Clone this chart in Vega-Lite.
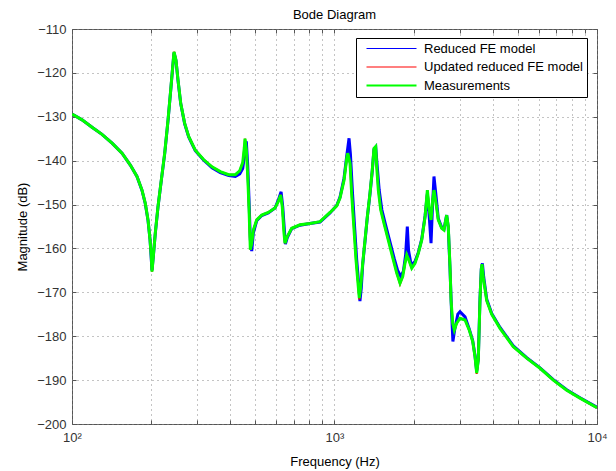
{
  "$schema": "https://vega.github.io/schema/vega-lite/v6.json",
  "width": 525,
  "height": 395,
  "autosize": "none",
  "padding": {"left": 72, "top": 29, "right": 19, "bottom": 47},
  "background": "white",
  "config": {
    "font": "Liberation Sans",
    "view": {"stroke": "#555", "strokeWidth": 1},
    "axis": {"labelFont": "Liberation Sans", "titleFont": "Liberation Sans"}
  },
  "title": {"text": "Bode Diagram", "fontSize": 13, "fontWeight": "normal", "color": "#000", "frame": "group", "offset": 4, "dy": 16, "baseline": "bottom"},
  "datasets": {
    "pts": [
      {"s":"Measurements","f":100,"m":-129.4},{"s":"Measurements","f":109.2,"m":-130.7},{"s":"Measurements","f":119.2,"m":-132.4},{"s":"Measurements","f":130.1,"m":-134.0},{"s":"Measurements","f":142.1,"m":-136.0},{"s":"Measurements","f":155.1,"m":-138.3},{"s":"Measurements","f":166.8,"m":-141.0},{"s":"Measurements","f":176.8,"m":-143.6},{"s":"Measurements","f":184.8,"m":-146.7},{"s":"Measurements","f":190.2,"m":-149.7},{"s":"Measurements","f":194.8,"m":-153.5},{"s":"Measurements","f":198.3,"m":-158.1},{"s":"Measurements","f":200.5,"m":-161.9},{"s":"Measurements","f":201.7,"m":-165.3},{"s":"Measurements","f":204,"m":-161.9},{"s":"Measurements","f":207.6,"m":-156.5},{"s":"Measurements","f":212.6,"m":-150.5},{"s":"Measurements","f":218.9,"m":-144.4},{"s":"Measurements","f":225.5,"m":-138.3},{"s":"Measurements","f":232.2,"m":-130.7},{"s":"Measurements","f":237.7,"m":-123.9},{"s":"Measurements","f":241.9,"m":-118.6},{"s":"Measurements","f":244.7,"m":-115.2},{"s":"Measurements","f":249,"m":-117.1},{"s":"Measurements","f":253.4,"m":-121.6},{"s":"Measurements","f":259.5,"m":-126.9},{"s":"Measurements","f":268.7,"m":-131.5},{"s":"Measurements","f":278.3,"m":-134.5},{"s":"Measurements","f":294.9,"m":-137.6},{"s":"Measurements","f":317.6,"m":-139.8},{"s":"Measurements","f":341.5,"m":-141.4},{"s":"Measurements","f":367.3,"m":-142.5},{"s":"Measurements","f":395.4,"m":-143.2},{"s":"Measurements","f":419,"m":-143.2},{"s":"Measurements","f":435.5,"m":-142.3},{"s":"Measurements","f":447.1,"m":-140.4},{"s":"Measurements","f":453.4,"m":-137.0},{"s":"Measurements","f":456.1,"m":-135.0},{"s":"Measurements","f":461.4,"m":-137.5},{"s":"Measurements","f":467.1,"m":-143.5},{"s":"Measurements","f":472.5,"m":-151.0},{"s":"Measurements","f":477.9,"m":-160.3},{"s":"Measurements","f":483.8,"m":-158.8},{"s":"Measurements","f":490.6,"m":-155.8},{"s":"Measurements","f":505.4,"m":-153.5},{"s":"Measurements","f":528.1,"m":-152.4},{"s":"Measurements","f":559.5,"m":-151.8},{"s":"Measurements","f":593.4,"m":-150.8},{"s":"Measurements","f":610.8,"m":-149.3},{"s":"Measurements","f":623.7,"m":-147.8},{"s":"Measurements","f":632.5,"m":-150.5},{"s":"Measurements","f":642.1,"m":-156.5},{"s":"Measurements","f":647.7,"m":-158.8},{"s":"Measurements","f":661,"m":-157.3},{"s":"Measurements","f":687.1,"m":-155.4},{"s":"Measurements","f":739,"m":-154.6},{"s":"Measurements","f":806.6,"m":-154.3},{"s":"Measurements","f":880.7,"m":-153.9},{"s":"Measurements","f":961.4,"m":-151.8},{"s":"Measurements","f":1019.6,"m":-150.3},{"s":"Measurements","f":1049.5,"m":-148.5},{"s":"Measurements","f":1087,"m":-144.5},{"s":"Measurements","f":1113,"m":-139.5},{"s":"Measurements","f":1123,"m":-138.3},{"s":"Measurements","f":1146,"m":-140.6},{"s":"Measurements","f":1162,"m":-147.4},{"s":"Measurements","f":1187,"m":-155.8},{"s":"Measurements","f":1207.6,"m":-162.6},{"s":"Measurements","f":1232,"m":-168.7},{"s":"Measurements","f":1243,"m":-171.3},{"s":"Measurements","f":1258.5,"m":-168.7},{"s":"Measurements","f":1280.8,"m":-163.4},{"s":"Measurements","f":1307,"m":-158.1},{"s":"Measurements","f":1333.5,"m":-152.8},{"s":"Measurements","f":1365.3,"m":-147.4},{"s":"Measurements","f":1393,"m":-142.1},{"s":"Measurements","f":1414,"m":-137.2},{"s":"Measurements","f":1435.5,"m":-136.8},{"s":"Measurements","f":1448,"m":-141.4},{"s":"Measurements","f":1468.7,"m":-146.7},{"s":"Measurements","f":1499.7,"m":-151.2},{"s":"Measurements","f":1543.8,"m":-154.3},{"s":"Measurements","f":1603,"m":-158.1},{"s":"Measurements","f":1675,"m":-162.6},{"s":"Measurements","f":1726,"m":-165.6},{"s":"Measurements","f":1776.7,"m":-167.9},{"s":"Measurements","f":1819,"m":-166.4},{"s":"Measurements","f":1856,"m":-163.4},{"s":"Measurements","f":1884,"m":-161.5},{"s":"Measurements","f":1918,"m":-162.6},{"s":"Measurements","f":1969,"m":-164.5},{"s":"Measurements","f":2026,"m":-163.4},{"s":"Measurements","f":2086,"m":-161.1},{"s":"Measurements","f":2149,"m":-158.1},{"s":"Measurements","f":2213,"m":-152.8},{"s":"Measurements","f":2258,"m":-146.7},{"s":"Measurements","f":2297,"m":-151.2},{"s":"Measurements","f":2332,"m":-153.5},{"s":"Measurements","f":2367,"m":-148.9},{"s":"Measurements","f":2393,"m":-146.7},{"s":"Measurements","f":2436,"m":-149.7},{"s":"Measurements","f":2485,"m":-153.5},{"s":"Measurements","f":2561,"m":-155.4},{"s":"Measurements","f":2613,"m":-155.8},{"s":"Measurements","f":2675,"m":-152.4},{"s":"Measurements","f":2713,"m":-155.0},{"s":"Measurements","f":2754,"m":-164.1},{"s":"Measurements","f":2779,"m":-171.7},{"s":"Measurements","f":2820,"m":-177.0},{"s":"Measurements","f":2861,"m":-178.6},{"s":"Measurements","f":2921,"m":-177.0},{"s":"Measurements","f":3007,"m":-175.9},{"s":"Measurements","f":3142,"m":-176.3},{"s":"Measurements","f":3262,"m":-178.6},{"s":"Measurements","f":3361,"m":-181.2},{"s":"Measurements","f":3429,"m":-184.6},{"s":"Measurements","f":3481,"m":-188.4},{"s":"Measurements","f":3530,"m":-185.4},{"s":"Measurements","f":3583,"m":-171.7},{"s":"Measurements","f":3624,"m":-164.9},{"s":"Measurements","f":3647,"m":-163.6},{"s":"Measurements","f":3689,"m":-166.6},{"s":"Measurements","f":3801,"m":-171.9},{"s":"Measurements","f":3972,"m":-175.0},{"s":"Measurements","f":4271,"m":-178.2},{"s":"Measurements","f":4799,"m":-182.4},{"s":"Measurements","f":5398,"m":-185.0},{"s":"Measurements","f":6067,"m":-187.3},{"s":"Measurements","f":6817,"m":-190.0},{"s":"Measurements","f":7666,"m":-192.3},{"s":"Measurements","f":8614,"m":-194.1},{"s":"Measurements","f":10000,"m":-196.3},

      {"s":"Updated reduced FE model","f":100,"m":-129.4},{"s":"Updated reduced FE model","f":109.2,"m":-130.7},{"s":"Updated reduced FE model","f":119.2,"m":-132.4},{"s":"Updated reduced FE model","f":130.1,"m":-134.0},{"s":"Updated reduced FE model","f":142.1,"m":-136.0},{"s":"Updated reduced FE model","f":155.1,"m":-138.3},{"s":"Updated reduced FE model","f":166.8,"m":-141.0},{"s":"Updated reduced FE model","f":176.8,"m":-143.6},{"s":"Updated reduced FE model","f":184.8,"m":-146.7},{"s":"Updated reduced FE model","f":190.2,"m":-149.7},{"s":"Updated reduced FE model","f":194.8,"m":-153.5},{"s":"Updated reduced FE model","f":198.3,"m":-158.1},{"s":"Updated reduced FE model","f":200.5,"m":-161.9},{"s":"Updated reduced FE model","f":201.7,"m":-165.3},{"s":"Updated reduced FE model","f":204,"m":-161.9},{"s":"Updated reduced FE model","f":207.6,"m":-156.5},{"s":"Updated reduced FE model","f":212.6,"m":-150.5},{"s":"Updated reduced FE model","f":218.9,"m":-144.4},{"s":"Updated reduced FE model","f":225.5,"m":-138.3},{"s":"Updated reduced FE model","f":232.2,"m":-130.7},{"s":"Updated reduced FE model","f":237.7,"m":-123.9},{"s":"Updated reduced FE model","f":241.9,"m":-118.6},{"s":"Updated reduced FE model","f":244.7,"m":-115.2},{"s":"Updated reduced FE model","f":249,"m":-117.1},{"s":"Updated reduced FE model","f":253.4,"m":-121.6},{"s":"Updated reduced FE model","f":259.5,"m":-126.9},{"s":"Updated reduced FE model","f":268.7,"m":-131.5},{"s":"Updated reduced FE model","f":278.3,"m":-134.5},{"s":"Updated reduced FE model","f":294.9,"m":-137.6},{"s":"Updated reduced FE model","f":317.6,"m":-139.8},{"s":"Updated reduced FE model","f":341.5,"m":-141.4},{"s":"Updated reduced FE model","f":367.3,"m":-142.5},{"s":"Updated reduced FE model","f":395.4,"m":-143.2},{"s":"Updated reduced FE model","f":419,"m":-143.2},{"s":"Updated reduced FE model","f":435.5,"m":-142.3},{"s":"Updated reduced FE model","f":447.1,"m":-140.4},{"s":"Updated reduced FE model","f":453.4,"m":-137.0},{"s":"Updated reduced FE model","f":456.1,"m":-135.0},{"s":"Updated reduced FE model","f":461.4,"m":-137.5},{"s":"Updated reduced FE model","f":467.1,"m":-143.5},{"s":"Updated reduced FE model","f":472.5,"m":-151.0},{"s":"Updated reduced FE model","f":477.9,"m":-160.3},{"s":"Updated reduced FE model","f":483.8,"m":-158.8},{"s":"Updated reduced FE model","f":490.6,"m":-155.8},{"s":"Updated reduced FE model","f":505.4,"m":-153.5},{"s":"Updated reduced FE model","f":528.1,"m":-152.4},{"s":"Updated reduced FE model","f":559.5,"m":-151.8},{"s":"Updated reduced FE model","f":593.4,"m":-150.8},{"s":"Updated reduced FE model","f":610.8,"m":-149.3},{"s":"Updated reduced FE model","f":623.7,"m":-147.8},{"s":"Updated reduced FE model","f":632.5,"m":-150.5},{"s":"Updated reduced FE model","f":642.1,"m":-156.5},{"s":"Updated reduced FE model","f":647.7,"m":-158.8},{"s":"Updated reduced FE model","f":661,"m":-157.3},{"s":"Updated reduced FE model","f":687.1,"m":-155.4},{"s":"Updated reduced FE model","f":739,"m":-154.6},{"s":"Updated reduced FE model","f":806.6,"m":-154.3},{"s":"Updated reduced FE model","f":880.7,"m":-153.9},{"s":"Updated reduced FE model","f":961.4,"m":-151.8},{"s":"Updated reduced FE model","f":1019.6,"m":-150.3},{"s":"Updated reduced FE model","f":1049.5,"m":-148.5},{"s":"Updated reduced FE model","f":1087,"m":-144.5},{"s":"Updated reduced FE model","f":1113,"m":-139.5},{"s":"Updated reduced FE model","f":1123,"m":-138.3},{"s":"Updated reduced FE model","f":1146,"m":-140.6},{"s":"Updated reduced FE model","f":1162,"m":-147.4},{"s":"Updated reduced FE model","f":1187,"m":-155.8},{"s":"Updated reduced FE model","f":1207.6,"m":-162.6},{"s":"Updated reduced FE model","f":1232,"m":-168.7},{"s":"Updated reduced FE model","f":1243,"m":-171.6},{"s":"Updated reduced FE model","f":1258.5,"m":-168.7},{"s":"Updated reduced FE model","f":1280.8,"m":-163.4},{"s":"Updated reduced FE model","f":1307,"m":-158.1},{"s":"Updated reduced FE model","f":1333.5,"m":-152.8},{"s":"Updated reduced FE model","f":1365.3,"m":-147.4},{"s":"Updated reduced FE model","f":1393,"m":-142.1},{"s":"Updated reduced FE model","f":1414,"m":-137.2},{"s":"Updated reduced FE model","f":1435.5,"m":-136.8},{"s":"Updated reduced FE model","f":1448,"m":-141.4},{"s":"Updated reduced FE model","f":1468.7,"m":-146.7},{"s":"Updated reduced FE model","f":1499.7,"m":-151.2},{"s":"Updated reduced FE model","f":1543.8,"m":-154.3},{"s":"Updated reduced FE model","f":1603,"m":-158.1},{"s":"Updated reduced FE model","f":1675,"m":-162.6},{"s":"Updated reduced FE model","f":1726,"m":-165.6},{"s":"Updated reduced FE model","f":1776.7,"m":-168.1},{"s":"Updated reduced FE model","f":1819,"m":-166.4},{"s":"Updated reduced FE model","f":1856,"m":-163.4},{"s":"Updated reduced FE model","f":1884,"m":-161.5},{"s":"Updated reduced FE model","f":1918,"m":-162.6},{"s":"Updated reduced FE model","f":1969,"m":-164.5},{"s":"Updated reduced FE model","f":2026,"m":-163.4},{"s":"Updated reduced FE model","f":2086,"m":-161.1},{"s":"Updated reduced FE model","f":2149,"m":-158.1},{"s":"Updated reduced FE model","f":2213,"m":-152.8},{"s":"Updated reduced FE model","f":2258,"m":-146.7},{"s":"Updated reduced FE model","f":2297,"m":-151.2},{"s":"Updated reduced FE model","f":2332,"m":-153.5},{"s":"Updated reduced FE model","f":2367,"m":-148.9},{"s":"Updated reduced FE model","f":2393,"m":-146.7},{"s":"Updated reduced FE model","f":2436,"m":-149.7},{"s":"Updated reduced FE model","f":2485,"m":-153.5},{"s":"Updated reduced FE model","f":2561,"m":-155.4},{"s":"Updated reduced FE model","f":2613,"m":-155.8},{"s":"Updated reduced FE model","f":2675,"m":-152.4},{"s":"Updated reduced FE model","f":2713,"m":-155.0},{"s":"Updated reduced FE model","f":2754,"m":-164.1},{"s":"Updated reduced FE model","f":2779,"m":-171.7},{"s":"Updated reduced FE model","f":2820,"m":-177.0},{"s":"Updated reduced FE model","f":2861,"m":-178.6},{"s":"Updated reduced FE model","f":2921,"m":-177.0},{"s":"Updated reduced FE model","f":3007,"m":-175.9},{"s":"Updated reduced FE model","f":3142,"m":-176.3},{"s":"Updated reduced FE model","f":3262,"m":-178.6},{"s":"Updated reduced FE model","f":3361,"m":-181.2},{"s":"Updated reduced FE model","f":3429,"m":-184.6},{"s":"Updated reduced FE model","f":3481,"m":-188.6},{"s":"Updated reduced FE model","f":3530,"m":-185.4},{"s":"Updated reduced FE model","f":3583,"m":-171.7},{"s":"Updated reduced FE model","f":3624,"m":-164.9},{"s":"Updated reduced FE model","f":3647,"m":-163.6},{"s":"Updated reduced FE model","f":3689,"m":-166.6},{"s":"Updated reduced FE model","f":3801,"m":-171.9},{"s":"Updated reduced FE model","f":3972,"m":-175.0},{"s":"Updated reduced FE model","f":4271,"m":-178.2},{"s":"Updated reduced FE model","f":4799,"m":-182.4},{"s":"Updated reduced FE model","f":5398,"m":-185.0},{"s":"Updated reduced FE model","f":6067,"m":-187.3},{"s":"Updated reduced FE model","f":6817,"m":-190.0},{"s":"Updated reduced FE model","f":7666,"m":-192.3},{"s":"Updated reduced FE model","f":8614,"m":-194.1},{"s":"Updated reduced FE model","f":10000,"m":-196.3},

      {"s":"Reduced FE model","f":100,"m":-129.4},{"s":"Reduced FE model","f":109.2,"m":-130.7},{"s":"Reduced FE model","f":119.2,"m":-132.4},{"s":"Reduced FE model","f":130.1,"m":-134.0},{"s":"Reduced FE model","f":142.1,"m":-136.0},{"s":"Reduced FE model","f":155.1,"m":-138.3},{"s":"Reduced FE model","f":166.8,"m":-141.0},{"s":"Reduced FE model","f":176.8,"m":-143.6},{"s":"Reduced FE model","f":184.8,"m":-146.8},{"s":"Reduced FE model","f":190.2,"m":-149.8},{"s":"Reduced FE model","f":194.8,"m":-153.6},{"s":"Reduced FE model","f":198.3,"m":-158.0},{"s":"Reduced FE model","f":201.7,"m":-165.0},{"s":"Reduced FE model","f":204,"m":-161.9},{"s":"Reduced FE model","f":207.6,"m":-156.6},{"s":"Reduced FE model","f":212.6,"m":-150.6},{"s":"Reduced FE model","f":218.9,"m":-144.5},{"s":"Reduced FE model","f":225.5,"m":-138.4},{"s":"Reduced FE model","f":232.2,"m":-130.8},{"s":"Reduced FE model","f":237.7,"m":-124.0},{"s":"Reduced FE model","f":241.9,"m":-118.7},{"s":"Reduced FE model","f":244.7,"m":-115.4},{"s":"Reduced FE model","f":249,"m":-117.2},{"s":"Reduced FE model","f":253.4,"m":-121.7},{"s":"Reduced FE model","f":259.5,"m":-127.0},{"s":"Reduced FE model","f":268.7,"m":-131.6},{"s":"Reduced FE model","f":278.3,"m":-134.6},{"s":"Reduced FE model","f":294.9,"m":-137.7},{"s":"Reduced FE model","f":317.6,"m":-139.9},{"s":"Reduced FE model","f":341.5,"m":-141.6},{"s":"Reduced FE model","f":367.3,"m":-142.7},{"s":"Reduced FE model","f":395.4,"m":-143.4},{"s":"Reduced FE model","f":419,"m":-143.6},{"s":"Reduced FE model","f":435.5,"m":-143.0},{"s":"Reduced FE model","f":447.1,"m":-141.8},{"s":"Reduced FE model","f":453.4,"m":-139.0},{"s":"Reduced FE model","f":456.1,"m":-136.8},{"s":"Reduced FE model","f":461.4,"m":-135.6},{"s":"Reduced FE model","f":467.1,"m":-141.0},{"s":"Reduced FE model","f":472.5,"m":-149.0},{"s":"Reduced FE model","f":477.9,"m":-158.0},{"s":"Reduced FE model","f":483.8,"m":-160.6},{"s":"Reduced FE model","f":490.6,"m":-156.5},{"s":"Reduced FE model","f":505.4,"m":-153.7},{"s":"Reduced FE model","f":528.1,"m":-152.5},{"s":"Reduced FE model","f":559.5,"m":-151.9},{"s":"Reduced FE model","f":593.4,"m":-150.8},{"s":"Reduced FE model","f":610.8,"m":-149.0},{"s":"Reduced FE model","f":626,"m":-147.1},{"s":"Reduced FE model","f":635,"m":-150.5},{"s":"Reduced FE model","f":650,"m":-159.0},{"s":"Reduced FE model","f":661,"m":-157.5},{"s":"Reduced FE model","f":687.1,"m":-155.5},{"s":"Reduced FE model","f":739,"m":-154.7},{"s":"Reduced FE model","f":806.6,"m":-154.3},{"s":"Reduced FE model","f":880.7,"m":-154.0},{"s":"Reduced FE model","f":961.4,"m":-151.9},{"s":"Reduced FE model","f":1019.6,"m":-150.2},{"s":"Reduced FE model","f":1049.5,"m":-148.3},{"s":"Reduced FE model","f":1087,"m":-144.0},{"s":"Reduced FE model","f":1113,"m":-139.0},{"s":"Reduced FE model","f":1136,"m":-134.9},{"s":"Reduced FE model","f":1150,"m":-138.5},{"s":"Reduced FE model","f":1170,"m":-147.0},{"s":"Reduced FE model","f":1195,"m":-155.8},{"s":"Reduced FE model","f":1215,"m":-162.6},{"s":"Reduced FE model","f":1240,"m":-169.0},{"s":"Reduced FE model","f":1250,"m":-172.0},{"s":"Reduced FE model","f":1265,"m":-169.0},{"s":"Reduced FE model","f":1280.8,"m":-163.6},{"s":"Reduced FE model","f":1307,"m":-158.3},{"s":"Reduced FE model","f":1333.5,"m":-152.9},{"s":"Reduced FE model","f":1365.3,"m":-147.6},{"s":"Reduced FE model","f":1393,"m":-142.3},{"s":"Reduced FE model","f":1414,"m":-137.4},{"s":"Reduced FE model","f":1435.5,"m":-136.9},{"s":"Reduced FE model","f":1455,"m":-141.4},{"s":"Reduced FE model","f":1480,"m":-146.7},{"s":"Reduced FE model","f":1515,"m":-151.2},{"s":"Reduced FE model","f":1560,"m":-154.3},{"s":"Reduced FE model","f":1620,"m":-158.1},{"s":"Reduced FE model","f":1690,"m":-162.4},{"s":"Reduced FE model","f":1740,"m":-165.0},{"s":"Reduced FE model","f":1790,"m":-166.4},{"s":"Reduced FE model","f":1830,"m":-165.2},{"s":"Reduced FE model","f":1866,"m":-161.5},{"s":"Reduced FE model","f":1894,"m":-155.0},{"s":"Reduced FE model","f":1915,"m":-160.5},{"s":"Reduced FE model","f":1960,"m":-163.8},{"s":"Reduced FE model","f":2026,"m":-163.0},{"s":"Reduced FE model","f":2086,"m":-160.9},{"s":"Reduced FE model","f":2149,"m":-157.9},{"s":"Reduced FE model","f":2213,"m":-152.6},{"s":"Reduced FE model","f":2258,"m":-147.5},{"s":"Reduced FE model","f":2297,"m":-153.0},{"s":"Reduced FE model","f":2332,"m":-158.8},{"s":"Reduced FE model","f":2360,"m":-151.0},{"s":"Reduced FE model","f":2393,"m":-143.6},{"s":"Reduced FE model","f":2436,"m":-148.0},{"s":"Reduced FE model","f":2485,"m":-153.2},{"s":"Reduced FE model","f":2561,"m":-155.2},{"s":"Reduced FE model","f":2613,"m":-155.6},{"s":"Reduced FE model","f":2675,"m":-152.4},{"s":"Reduced FE model","f":2713,"m":-155.2},{"s":"Reduced FE model","f":2754,"m":-164.5},{"s":"Reduced FE model","f":2790,"m":-174.0},{"s":"Reduced FE model","f":2825,"m":-181.2},{"s":"Reduced FE model","f":2870,"m":-178.5},{"s":"Reduced FE model","f":2950,"m":-175.0},{"s":"Reduced FE model","f":3007,"m":-174.4},{"s":"Reduced FE model","f":3142,"m":-175.6},{"s":"Reduced FE model","f":3262,"m":-178.4},{"s":"Reduced FE model","f":3361,"m":-181.0},{"s":"Reduced FE model","f":3429,"m":-184.4},{"s":"Reduced FE model","f":3481,"m":-188.0},{"s":"Reduced FE model","f":3530,"m":-185.2},{"s":"Reduced FE model","f":3583,"m":-171.5},{"s":"Reduced FE model","f":3624,"m":-164.6},{"s":"Reduced FE model","f":3660,"m":-163.4},{"s":"Reduced FE model","f":3700,"m":-166.4},{"s":"Reduced FE model","f":3801,"m":-171.6},{"s":"Reduced FE model","f":3972,"m":-174.8},{"s":"Reduced FE model","f":4271,"m":-178.0},{"s":"Reduced FE model","f":4799,"m":-182.2},{"s":"Reduced FE model","f":5398,"m":-184.9},{"s":"Reduced FE model","f":6067,"m":-187.2},{"s":"Reduced FE model","f":6817,"m":-189.9},{"s":"Reduced FE model","f":7666,"m":-192.2},{"s":"Reduced FE model","f":8614,"m":-194.0},{"s":"Reduced FE model","f":10000,"m":-196.2}
    ]
  },
  "data": {"name": "pts"},
  "encoding": {
    "color": {
      "field": "s",
      "type": "nominal",
      "scale": {"domain": ["Reduced FE model", "Updated reduced FE model", "Measurements"], "range": ["#0000ff", "#ff0000", "#00ff00"]},
      "legend": {
        "orient": "none",
        "legendX": 284,
        "legendY": 9,
        "title": null,
        "fillColor": "white",
        "strokeColor": "#000",
        "padding": 4,
        "symbolType": "M0,0H10",
        "symbolSize": 100,
        "symbolStrokeWidth": 1.2,
        "labelOffset": 51,
        "labelFontSize": 13,
        "labelColor": "#000",
        "labelFont": "Liberation Sans",
        "rowPadding": 4.5,
        "labelLimit": 300,
        "encode": {"symbols": {"update": {"strokeWidth": {"signal": "datum.value === 'Measurements' ? 2.2 : 1.2"}}}}
      }
    }
  },
  "layer": [
    {
      "transform": [{"filter": "datum.s === 'Reduced FE model'"}],
      "mark": {"type": "line", "strokeWidth": 3, "clip": true},
      "encoding": {
        "x": {
          "field": "f", "type": "quantitative",
          "scale": {"type": "log", "domain": [100, 10000], "nice": false},
          "axis": {
            "orient": "bottom",
            "values": [100,200,300,400,500,600,700,800,900,1000,2000,3000,4000,5000,6000,7000,8000,9000,10000],
            "labelExpr": "datum.value == 100 ? '10²' : datum.value == 1000 ? '10³' : datum.value == 10000 ? '10⁴' : ''",
            "labelFlush": false, "labelOverlap": false, "labelFontSize": 13, "labelColor": "#333",
            "labelPadding": 11,
            "grid": true, "gridDash": [1, 4], "gridColor": "#888", "gridOpacity": 1,
            "domain": false, "tickSize": -4, "tickColor": "#555",
            "title": "Frequency  (Hz)", "titleFontSize": 13, "titleFontWeight": "normal", "titleColor": "#000", "titlePadding": 11
          }
        },
        "y": {
          "field": "m", "type": "quantitative",
          "scale": {"domain": [-200, -110], "nice": false, "zero": false},
          "axis": {
            "orient": "left",
            "values": [-200,-190,-180,-170,-160,-150,-140,-130,-120,-110],
            "labelFontSize": 13, "labelColor": "#333", "labelPadding": 10,
            "grid": true, "gridDash": [1, 4], "gridColor": "#888", "gridOpacity": 1,
            "domain": false, "tickSize": -4, "tickColor": "#555",
            "title": "Magnitude (dB)", "titleFontSize": 13, "titleFontWeight": "normal", "titleColor": "#000", "titlePadding": 7
          }
        }
      }
    },
    {
      "transform": [{"filter": "datum.s === 'Updated reduced FE model'"}],
      "mark": {"type": "line", "strokeWidth": 2, "clip": true},
      "encoding": {
        "x": {"field": "f", "type": "quantitative", "scale": {"type": "log", "domain": [100, 10000], "nice": false}, "axis": null},
        "y": {"field": "m", "type": "quantitative", "scale": {"domain": [-200, -110], "nice": false, "zero": false}, "axis": null}
      }
    },
    {
      "transform": [{"filter": "datum.s === 'Measurements'"}],
      "mark": {"type": "line", "strokeWidth": 3, "clip": true},
      "encoding": {
        "x": {
          "field": "f", "type": "quantitative", "scale": {"type": "log", "domain": [100, 10000], "nice": false},
          "axis": {"orient": "top", "values": [100,200,300,400,500,600,700,800,900,1000,2000,3000,4000,5000,6000,7000,8000,9000,10000], "labels": false, "grid": false, "domain": false, "tickSize": -4, "tickColor": "#555", "title": null}
        },
        "y": {
          "field": "m", "type": "quantitative", "scale": {"domain": [-200, -110], "nice": false, "zero": false},
          "axis": {"orient": "right", "values": [-200,-190,-180,-170,-160,-150,-140,-130,-120,-110], "labels": false, "grid": false, "domain": false, "tickSize": -4, "tickColor": "#555", "title": null}
        }
      }
    }
  ],
  "resolve": {"axis": {"x": "independent", "y": "independent"}}
}
